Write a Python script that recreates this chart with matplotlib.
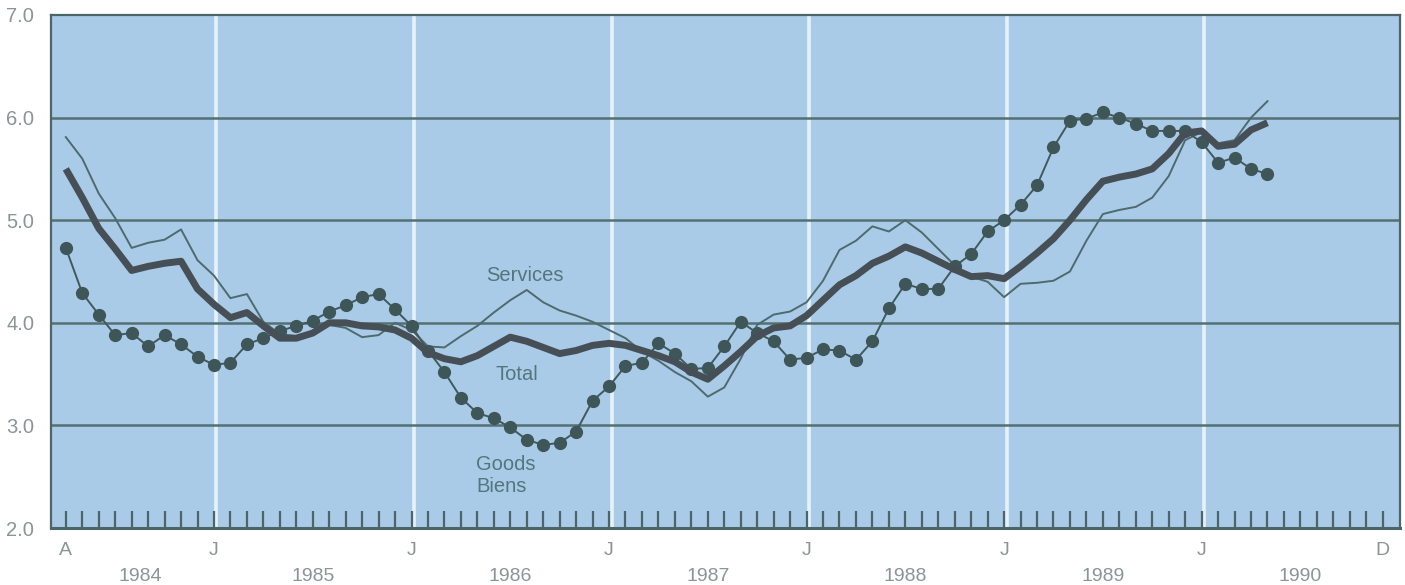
import numpy as np
import matplotlib
matplotlib.use('Agg')
import matplotlib.pyplot as plt

plt.rcParams['font.family'] = ['Liberation Sans', 'DejaVu Sans']

# month index 0 = April 1984, last point = May 1990
total = [5.50, 5.22, 4.92, 4.72, 4.51, 4.55, 4.58, 4.60, 4.33, 4.18, 4.05, 4.10,
         3.97, 3.85, 3.85, 3.90, 4.00, 4.00, 3.97, 3.96, 3.93, 3.85, 3.71, 3.65,
         3.62, 3.68, 3.77, 3.86, 3.82, 3.76, 3.70, 3.73, 3.78, 3.80, 3.78, 3.73,
         3.68, 3.62, 3.52, 3.45, 3.58, 3.72, 3.87, 3.95, 3.97, 4.07, 4.22, 4.37,
         4.46, 4.58, 4.65, 4.74, 4.68, 4.60, 4.52, 4.45, 4.46, 4.43, 4.55, 4.68,
         4.82, 5.00, 5.20, 5.38, 5.42, 5.45, 5.50, 5.65, 5.85, 5.87, 5.72, 5.74,
         5.88, 5.95]

services = [5.81, 5.60, 5.26, 5.02, 4.73, 4.78, 4.81, 4.91, 4.61, 4.46, 4.24, 4.28,
            4.01, 3.89, 3.87, 3.92, 3.98, 3.95, 3.86, 3.88, 4.00, 3.93, 3.77, 3.76,
            3.87, 3.97, 4.10, 4.22, 4.32, 4.20, 4.12, 4.07, 4.01, 3.93, 3.85, 3.72,
            3.63, 3.52, 3.43, 3.28, 3.37, 3.65, 3.98, 4.08, 4.11, 4.20, 4.41, 4.71,
            4.80, 4.94, 4.89, 5.00, 4.88, 4.72, 4.56, 4.45, 4.40, 4.25, 4.38, 4.39,
            4.41, 4.50, 4.80, 5.06, 5.10, 5.13, 5.22, 5.43, 5.78, 5.86, 5.75, 5.78,
            6.00, 6.16]

goods = [4.73, 4.29, 4.08, 3.88, 3.90, 3.77, 3.88, 3.79, 3.67, 3.59, 3.61, 3.79,
         3.85, 3.92, 3.97, 4.02, 4.11, 4.17, 4.25, 4.28, 4.13, 3.97, 3.73, 3.52,
         3.27, 3.12, 3.07, 2.98, 2.86, 2.81, 2.83, 2.94, 3.24, 3.38, 3.58, 3.61,
         3.80, 3.70, 3.55, 3.56, 3.77, 4.01, 3.90, 3.82, 3.64, 3.66, 3.74, 3.73,
         3.64, 3.82, 4.14, 4.38, 4.33, 4.33, 4.55, 4.67, 4.89, 5.00, 5.15, 5.34,
         5.71, 5.97, 5.99, 6.05, 6.00, 5.94, 5.87, 5.87, 5.87, 5.76, 5.56, 5.61,
         5.50, 5.45]

# x labels: April 1984 (A), each January (J), December 1990 (D)
month_labels = {0: 'A', 9: 'J', 21: 'J', 33: 'J', 45: 'J', 57: 'J', 69: 'J', 80: 'D'}
jan_months = [9, 21, 33, 45, 57, 69]
years = ['1984', '1985', '1986', '1987', '1988', '1989', '1990']
year_centres = [4.5, 15, 27, 39, 51, 63, 75]

BG = '#a9cbe8'
DARK = '#4d6468'
GRID = '#557072'
LABEL = '#8c9496'
NOTE = '#55757c'

fig = plt.figure(figsize=(14.05, 5.85), dpi=100)
ax = fig.add_axes([51 / 1405, 1 - 528 / 585, 1349 / 1405, 513 / 585])
ax.set_facecolor(BG)

x = np.arange(len(total))

for m in jan_months:
    ax.axvline(m + 0.15, color='#e6f2fb', lw=2.6, zorder=1)
for v in [3, 4, 5, 6]:
    ax.axhline(v, color=GRID, lw=1.8, zorder=2)

ax.plot(x, services, color='#4f6a6c', lw=1.4, zorder=3)
ax.plot(x, goods, color='#41595c', lw=1.4, marker='o', ms=8.5,
        markerfacecolor='#3f5659', markeredgecolor='#3f5659', zorder=4)
ax.plot(x, total, color='#464f56', lw=5, solid_capstyle='butt',
        solid_joinstyle='round', zorder=5)

ax.set_xlim(-0.9, 81.05)
ax.set_ylim(2, 7)

# monthly ticks inside the frame
ax.set_xticks(range(81))
ax.set_xticklabels([month_labels.get(i, '') for i in range(81)])
ax.tick_params(axis='x', direction='in', length=12, width=1.6, color=DARK,
               pad=10, labelsize=14, labelcolor=LABEL)
ax.set_yticks([2, 3, 4, 5, 6, 7])
ax.set_yticklabels(['2.0', '3.0', '4.0', '5.0', '6.0', '7.0'])
ax.tick_params(axis='y', length=0, pad=12, labelsize=14.5, labelcolor=LABEL)

for y_lab, xc in zip(years, year_centres):
    ax.text(xc, -0.095, y_lab, transform=ax.get_xaxis_transform(),
            ha='center', va='center', fontsize=14, color=LABEL)

for side in ['left', 'right', 'top', 'bottom']:
    ax.spines[side].set_color(DARK)
    ax.spines[side].set_linewidth(1.6)
ax.spines['bottom'].set_linewidth(2.2)

ax.text(27.9, 4.46, 'Services', ha='center', va='center', fontsize=14.5, color=NOTE)
ax.text(27.4, 3.5, 'Total', ha='center', va='center', fontsize=14.5, color=NOTE)
ax.text(26.7, 2.62, 'Goods', ha='center', va='center', fontsize=14.5, color=NOTE)
ax.text(26.5, 2.40, 'Biens', ha='center', va='center', fontsize=14.5, color=NOTE)

fig.savefig('out.png', dpi=100)
